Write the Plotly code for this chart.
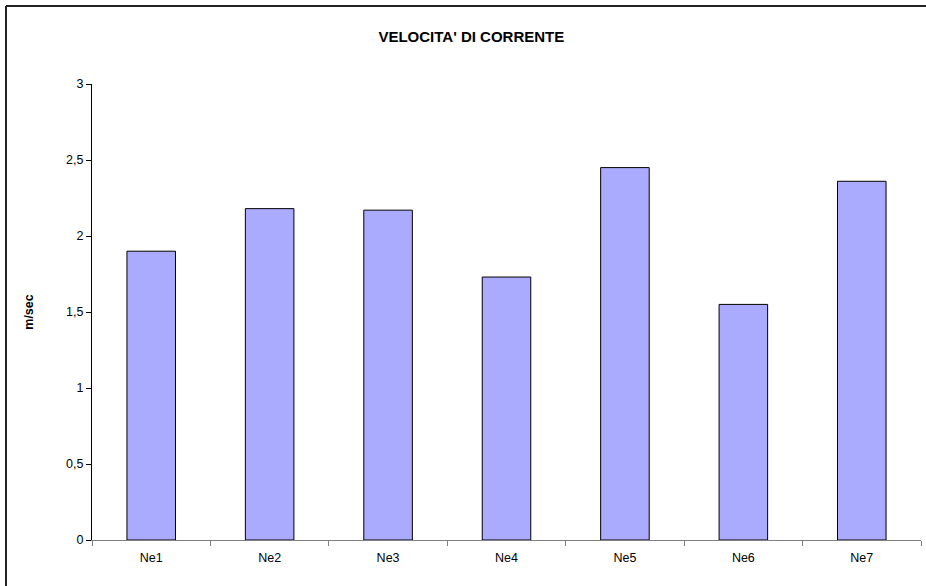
import plotly.graph_objects as go

categories = ["Ne1", "Ne2", "Ne3", "Ne4", "Ne5", "Ne6", "Ne7"]
values = [1.90, 2.18, 2.17, 1.73, 2.45, 1.55, 2.36]
y_ticks = [0, 0.5, 1, 1.5, 2, 2.5, 3]

fig = go.Figure(go.Bar(
    x=categories, y=values,
    marker=dict(color="#AAAAFF", line=dict(color="#000000", width=1)),
    width=0.41,
))

font = "Liberation Sans, Arial, sans-serif"
fig.update_layout(
    width=926, height=586,
    margin=dict(l=92, r=5, t=84, b=46),
    paper_bgcolor="white", plot_bgcolor="white",
    separators=",.",
    font=dict(family=font, size=12, color="#000000"),
    title=dict(text="<b>VELOCITA' DI CORRENTE</b>", x=0.509, xref="container",
               xanchor="center", y=1 - 37/586, yanchor="middle",
               font=dict(family=font, size=15, color="#000000")),
    showlegend=False,
)
fig.update_xaxes(
    showline=True, linecolor="#808080", linewidth=1,
    ticks="outside", tickson="boundaries", ticklen=5, tickcolor="#808080",
    showgrid=False, tickfont=dict(size=12.5), ticklabelstandoff=6,
)
fig.update_yaxes(
    range=[0, 3], tickvals=y_ticks, showline=True, linecolor="#000000", linewidth=1,
    ticks="outside", ticklen=5, tickcolor="#000000", showgrid=False, zeroline=False,
    title=dict(text="<b>m/sec</b>", font=dict(size=12.5), standoff=29),
    tickfont=dict(size=12.5),
)
fig.add_shape(type="line", xref="paper", yref="paper",
              x0=-86/829, x1=1 + 5/829, y0=1 + 78/456, y1=1 + 78/456,
              line=dict(color="#222222", width=2))
fig.add_shape(type="line", xref="paper", yref="paper",
              x0=-86/829, x1=-86/829, y0=1 + 78/456, y1=-46/456,
              line=dict(color="#222222", width=2))
fig.write_html("out.html")
